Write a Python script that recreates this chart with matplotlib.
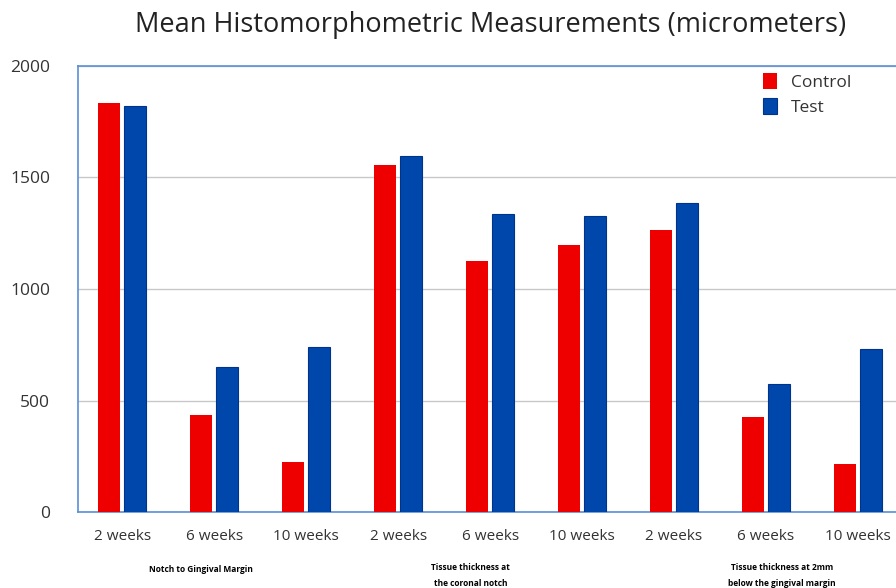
import numpy as np
import matplotlib.pyplot as plt

# Data
weeks = ['2 weeks', '6 weeks', '10 weeks'] * 3
control = [1834, 435, 224, 1556, 1125, 1197, 1264, 426, 215]
test = [1820, 650, 740, 1596, 1336, 1327, 1386, 574, 731]
groups = ['Notch to Gingival Margin',
          'Tissue thickness at\nthe coronal notch',
          'Tissue thickness at 2mm\nbelow the gingival margin']

plt.rcParams['font.family'] = ['Open Sans', 'DejaVu Sans']

fig = plt.figure(figsize=(8.96, 5.88), dpi=100)
ax = fig.add_axes([0.087, 0.129, 0.924, 0.759])

x = np.arange(len(weeks))
w = 0.24
ax.bar(x - 0.14, control, w, color='#EE0000', label='Control', zorder=3)
ax.bar(x + 0.14, test, w, color='#0047AB', edgecolor='#00338a', linewidth=0.8,
       label='Test', zorder=3)

ax.set_xlim(-0.48, 8.52)
ax.set_ylim(0, 2000)
ax.set_yticks([0, 500, 1000, 1500, 2000])
ax.set_xticks(x)
ax.set_xticklabels(weeks, fontsize=11, color='#333333')
ax.tick_params(axis='y', length=0, pad=20, labelsize=12.5, labelcolor='#333333')
ax.tick_params(axis='x', length=0, pad=12)
ax.yaxis.grid(True, color='#c8c8c8', linewidth=1, zorder=0)

for s in ['left', 'top', 'bottom']:
    ax.spines[s].set_color('#5b8fd6')
    ax.spines[s].set_linewidth(1.2)
ax.spines['right'].set_visible(False)

ax.legend(loc='upper right', bbox_to_anchor=(0.953, 1.02), frameon=False,
          fontsize=12.5, handlelength=0.8, handleheight=1.1, handletextpad=0.8,
          labelspacing=0.4, labelcolor='#333333')

fig.text(0.548, 0.957, 'Mean Histomorphometric Measurements (micrometers)',
         ha='center', va='center', fontsize=19.5, color='#222222')

for gx, g in zip([0.224, 0.525, 0.873], groups):
    fig.text(gx, 0.021 if '\n' in g else 0.031, g, ha='center', va='center',
             fontsize=6, fontweight='bold', linespacing=2.0)

fig.savefig('out.png', dpi=100)
